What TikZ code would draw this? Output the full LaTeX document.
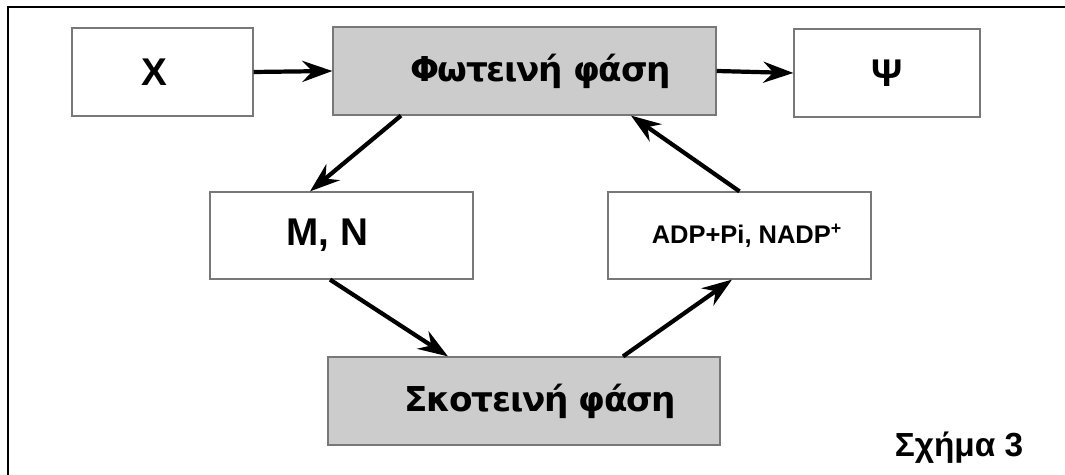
\documentclass[tikz,border=0pt]{standalone}
\usepackage{fontspec}
\setmainfont{Liberation Sans}
\newfontfamily\phasefont[LetterSpace=-4]{DejaVu Sans}
\usetikzlibrary{arrows.meta}
\definecolor{boxgray}{RGB}{204,204,204}
\definecolor{edgegray}{RGB}{120,120,120}
\tikzset{
  box/.style={draw=edgegray, line width=0.7pt, fill=white, minimum height=1.76cm,
    inner sep=0pt, font=\bfseries\fontsize{22}{26}\selectfont},
  phasebox/.style={box, fill=boxgray, font=\phasefont\bfseries\fontsize{19.5}{23}\selectfont},
  flow/.style={line width=2.4pt, -{Stealth[length=6mm, width=4.2mm, inset=2mm]}}
}
\begin{document}
\begin{tikzpicture}
                \useasboundingbox (0.000000,0.000000) rectangle (21.300000,9.500000);
                \clip (0.000000,0.000000) rectangle (21.300000,9.500000);
                
                % Drawing outer frame
                \draw [line width=1.2pt] (0.160000,-0.500000) -- (0.160000,9.360000) -- (21.800000,9.360000);%
                
                % Drawing boxes of upper row
                \node [box, minimum width=3.620000cm] (x) at (3.250000,8.060000) {X\hspace*{0.320000cm}};%
                \node [phasebox, minimum width=7.660000cm] (light) at (10.490000,8.080000) {\hspace*{0.640000cm}Φωτεινή φάση};%
                \node [box, minimum width=3.720000cm] (psi) at (17.740000,8.040000) {Ψ};%
                
                % Drawing boxes of middle row
                \node [box, minimum width=5.260000cm, minimum height=1.740000cm] (mn) at (6.830000,4.790000) {M, N\hspace*{0.560000cm}};%
                \node [box, minimum width=5.260000cm, minimum height=1.740000cm, font=\bfseries\fontsize{14.5}{17}\selectfont] (adp) at (14.790000,4.790000) {\hspace*{0.300000cm}ADP+Pi, NADP\textsuperscript{+}};%
                
                % Drawing box of lower row
                \node [phasebox, minimum width=7.840000cm] (dark) at (10.480000,1.480000) {\hspace*{0.660000cm}Σκοτεινή φάση};%
                
                % Drawing arrows
                \draw [flow] (x.east) -- (light.west);%
                \draw [flow] (light.east) -- (psi.west);%
                \draw [flow] ([xshift=-2.470000cm]light.south) -- ([xshift=-0.630000cm]mn.north);%
                \draw [flow] ([xshift=-0.230000cm]mn.south) -- ([xshift=-1.520000cm]dark.north);%
                \draw [flow] ([xshift=1.980000cm]dark.north) -- ([xshift=-0.150000cm]adp.south);%
                \draw [flow] (adp.north) -- ([xshift=2.130000cm]light.south);%
                
                % Marking figure number
                \node [anchor=base, font=\bfseries\fontsize{19}{23}\selectfont] (fig) at (19.180000,0.360000) {Σχήμα 3};%
\end{tikzpicture}
\end{document}
